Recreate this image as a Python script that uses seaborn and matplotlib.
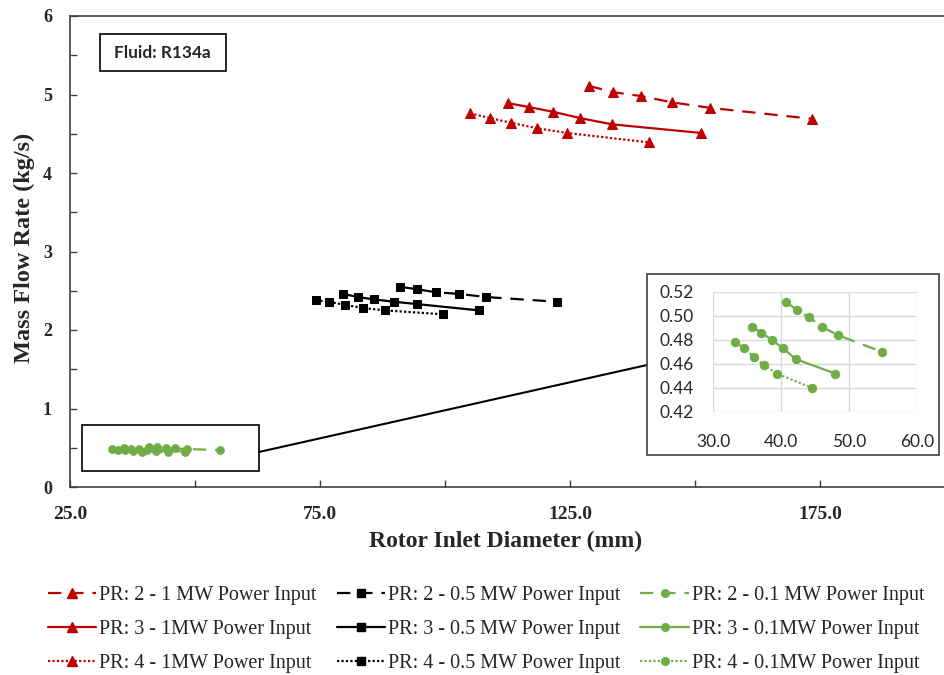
import matplotlib
matplotlib.use("Agg")
import matplotlib.pyplot as plt
import seaborn as sns
import pandas as pd
from matplotlib.patches import Rectangle
from matplotlib.lines import Line2D
from matplotlib.ticker import FormatStrFormatter, MultipleLocator, FixedLocator, FixedFormatter

# ---------------- data ----------------
red_pr2_x = [128.8, 133.6, 139.2, 145.4, 153.0, 173.4]
red_pr2_y = [5.11, 5.03, 4.98, 4.90, 4.83, 4.69]
red_pr3_x = [112.6, 116.8, 121.6, 127.0, 133.4, 151.2]
red_pr3_y = [4.89, 4.84, 4.78, 4.70, 4.62, 4.51]
red_pr4_x = [105.0, 109.0, 113.2, 118.4, 124.4, 140.8]
red_pr4_y = [4.76, 4.70, 4.64, 4.57, 4.51, 4.39]

black_pr2_x = [91.0, 94.4, 98.2, 102.8, 108.2, 122.4]
black_pr2_y = [2.55, 2.52, 2.48, 2.46, 2.42, 2.36]
black_pr3_x = [79.6, 82.6, 85.8, 89.8, 94.4, 106.8]
black_pr3_y = [2.46, 2.42, 2.39, 2.36, 2.33, 2.25]
black_pr4_x = [74.2, 76.8, 80.0, 83.6, 88.0, 99.6]
black_pr4_y = [2.38, 2.36, 2.32, 2.28, 2.25, 2.20]

green_pr2_x = [40.7, 42.3, 44.1, 46.0, 48.4, 54.9]
green_pr2_y = [0.512, 0.505, 0.499, 0.491, 0.484, 0.470]
green_pr3_x = [35.8, 37.1, 38.7, 40.3, 42.2, 48.0]
green_pr3_y = [0.491, 0.486, 0.480, 0.473, 0.464, 0.452]
green_pr4_x = [33.3, 34.6, 36.0, 37.5, 39.4, 44.6]
green_pr4_y = [0.478, 0.473, 0.466, 0.459, 0.452, 0.440]

labels = ["PR: 2 - 1 MW Power Input", "PR: 3 - 1MW Power Input", "PR: 4 - 1MW Power Input",
          "PR: 2 - 0.5 MW Power Input", "PR: 3 - 0.5 MW Power Input", "PR: 4 - 0.5 MW Power Input",
          "PR: 2 - 0.1 MW Power Input", "PR: 3 - 0.1MW Power Input", "PR: 4 - 0.1MW Power Input"]

main_xticks = [25, 50, 75, 100, 125, 150, 175, 200]
main_xticklabels = ["25.0", "", "75.0", "", "125.0", "", "175.0", ""]
inset_xticks = [30, 40, 50, 60]
inset_yticks = [0.42, 0.44, 0.46, 0.48, 0.50, 0.52]

RED, BLACK, GREEN = "#C00000", "#000000", "#70AD47"
DASH, SOLID, DOT = (0, (6, 4)), "-", (0, (1, 1))

series = [
    (red_pr2_x, red_pr2_y, RED, "^", 7, DASH),
    (red_pr3_x, red_pr3_y, RED, "^", 7, SOLID),
    (red_pr4_x, red_pr4_y, RED, "^", 7, DOT),
    (black_pr2_x, black_pr2_y, BLACK, "s", 6, DASH),
    (black_pr3_x, black_pr3_y, BLACK, "s", 6, SOLID),
    (black_pr4_x, black_pr4_y, BLACK, "s", 6, DOT),
    (green_pr2_x, green_pr2_y, GREEN, "o", 5.5, DASH),
    (green_pr3_x, green_pr3_y, GREEN, "o", 5.5, SOLID),
    (green_pr4_x, green_pr4_y, GREEN, "o", 5.5, DOT),
]

sns.set_style("ticks")
plt.rcParams["font.family"] = ["Liberation Serif", "DejaVu Serif"]

W, H = 944, 675
fig = plt.figure(figsize=(W / 100, H / 100), dpi=100)

def fx(px):
    return px / W

def fy(py):
    return 1 - py / H

ax = fig.add_axes([fx(70), fy(487), fx(875), (487 - 16) / H])

for (x, y, c, m, ms, ls) in series:
    df = pd.DataFrame({"x": x, "y": y})
    sns.lineplot(data=df, x="x", y="y", ax=ax, color=c, marker=m, markersize=ms,
                 markeredgecolor=c, markerfacecolor=c, linewidth=1.6, linestyle=ls,
                 sort=False, legend=False, zorder=3)

ax.set_xlim(25, 200)
ax.set_ylim(0, 6)
ax.xaxis.set_major_locator(FixedLocator(main_xticks))
ax.xaxis.set_major_formatter(FixedFormatter(main_xticklabels))
ax.yaxis.set_major_locator(MultipleLocator(1))
ax.yaxis.set_minor_locator(MultipleLocator(0.5))
ax.tick_params(axis="both", which="both", direction="in", length=5, width=1, color="#404040")
ax.tick_params(axis="x", pad=14, labelsize=14)
ax.tick_params(axis="y", pad=13, labelsize=13)
for lab in ax.get_xticklabels() + ax.get_yticklabels():
    lab.set_fontweight("bold")
for sp in ax.spines.values():
    sp.set_color("#404040")
    sp.set_linewidth(1.2)

ax.set_xlabel("")
ax.set_ylabel("")
fig.text(fx(506), fy(541), "Rotor Inlet Diameter (mm)", ha="center", va="center",
         fontsize=17, fontweight="bold")
fig.text(fx(24), fy(248), "Mass Flow Rate (kg/s)", ha="center", va="center",
         rotation=90, fontsize=17.5, fontweight="bold")

# Fluid label box
fig.add_artist(Rectangle((fx(100), fy(71)), fx(126), (71 - 34) / H, transform=fig.transFigure,
                         facecolor="white", edgecolor="black", linewidth=1.2, zorder=5))
fig.text(fx(162), fy(53), "Fluid: R134a", ha="center", va="center", fontsize=12.4,
         fontweight="bold", family=["Lato", "DejaVu Sans"], zorder=6)

# Zoom box around green group and connector line
ax.add_patch(Rectangle((27.4, 0.204), 35.4, 0.586, facecolor="none", edgecolor="black",
                       linewidth=1.2, zorder=4))
ax.plot([62.8, 140.4], [0.446, 1.554], color="black", linewidth=1.5, zorder=4)

# Inset frame
ax.add_patch(Rectangle((fx(647), fy(455)), fx(292), (455 - 274) / H, transform=fig.transFigure,
                       facecolor="white", edgecolor="#404040", linewidth=1.2, zorder=6,
                       clip_on=False))

axin = fig.add_axes([fx(713), fy(412), fx(204), (412 - 292) / H], zorder=10)
axin.set_facecolor("white")
for (x, y, c, m, ms, ls) in series[6:]:
    df = pd.DataFrame({"x": x, "y": y})
    sns.lineplot(data=df, x="x", y="y", ax=axin, color=c, marker=m, markersize=6,
                 markeredgecolor=c, markerfacecolor=c, linewidth=1.6, linestyle=ls,
                 sort=False, legend=False, zorder=3)
axin.set_xlim(30, 60)
axin.set_ylim(0.42, 0.52)
axin.set_xticks(inset_xticks)
axin.set_yticks(inset_yticks)
axin.xaxis.set_major_formatter(FormatStrFormatter("%.1f"))
axin.yaxis.set_major_formatter(FormatStrFormatter("%.2f"))
axin.grid(True, color="#d9d9d9", linewidth=1)
axin.set_axisbelow(True)
for sp in axin.spines.values():
    sp.set_visible(False)
axin.tick_params(axis="both", length=0, labelsize=12.5, colors="#262626")
axin.tick_params(axis="x", pad=16)
axin.tick_params(axis="y", pad=14)
for lab in axin.get_xticklabels() + axin.get_yticklabels():
    lab.set_family(["Lato", "DejaVu Sans"])
axin.set_xlabel("")
axin.set_ylabel("")

# Legend
handles = [Line2D([], [], color=c, marker=m, markersize=ms, markeredgecolor=c,
                  linewidth=1.6, linestyle=ls)
           for (x, y, c, m, ms, ls) in series]
fig.legend(handles, labels, ncol=3, loc="center", bbox_to_anchor=(fx(486), fy(629)),
           frameon=False, fontsize=14.5, handlelength=2.4, handletextpad=0.15,
           columnspacing=1.0, labelspacing=0.74, borderpad=0, borderaxespad=0)

fig.savefig("out.png", dpi=100)
